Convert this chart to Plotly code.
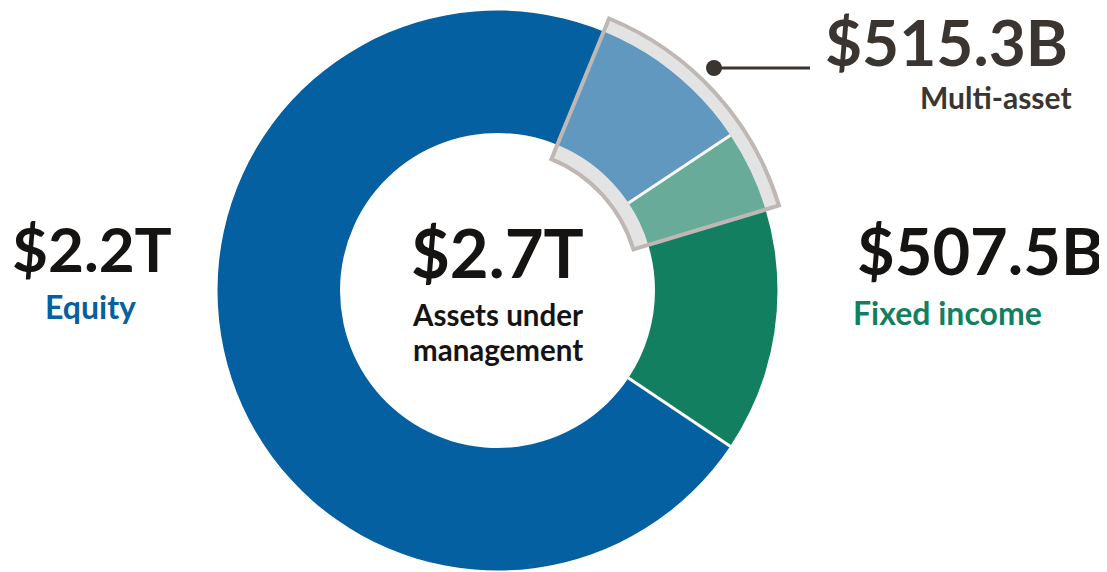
import numpy as np
import plotly.graph_objects as go

# assets under management, billions of USD
categories = ["Equity", "Fixed income"]
aum_bn = [2200.0, 507.5]
value_labels = ["$2.2T", "$507.5B"]
multi_asset_bn = 515.3
multi_asset_label = "$515.3B"
total_label = "$2.7T"

VIEW_W, VIEW_H = 1107, 572
PAD = 8                        # default body margin of the html page
W, H = VIEW_W - PAD, VIEW_H - PAD
CX, CY = 497.5, 290.5          # donut centre, screen px
R_OUT, R_IN = 280.0, 157.5     # donut radii in px
HL_OUT, HL_IN = 294.0, 142.0   # multi-asset highlight radii
HL_FROM, HL_TO = 22.3, 73.2    # highlight span, deg clockwise from 12 o'clock
FI_START = 56.3                # fixed income starts here

BLUE = "#0460a0"
GREEN = "#127f61"
INK = "#161412"
GREY_INK = "#3b3531"
FONT = "Lato"

total = sum(aum_bn)
spans = [v / total * 360 for v in aum_bn]
starts = [FI_START + spans[1], FI_START]   # equity follows fixed income clockwise
centers = [(s + w / 2) % 360 for s, w in zip(starts, spans)]


# screen px -> paper coords
def px_x(x):
    return (x - PAD) / W


def px_y(y):
    return 1 - (y - PAD) / H


# full-circle subplot for the donut, 1 radial unit = 1 px
R1 = VIEW_H - CY
dom_full = dict(x=[px_x(CX - R1), px_x(CX + R1)],
                y=[max(0.0, px_y(CY + R1)), min(1.0, px_y(CY - R1))])

# sector subplots for the highlight (lets it stick out past the donut)
SECTOR = [12, 69.5]
R2 = 300.0
bx = np.cos(np.radians(SECTOR[0]))
by = np.sin(np.radians(SECTOR[1]))
dom_sector = dict(x=[px_x(CX), px_x(CX + R2 * bx)],
                  y=[px_y(CY), min(1.0, px_y(CY - R2 * by))])


def polar_cfg(domain, rmax, sector=None):
    cfg = dict(domain=domain, bgcolor="rgba(0,0,0,0)", barmode="overlay",
               radialaxis=dict(range=[0, rmax], visible=False, showgrid=False, showline=False),
               angularaxis=dict(rotation=90, direction="clockwise", visible=False,
                                showgrid=False, showline=False, ticks=""))
    if sector:
        cfg["sector"] = sector
    return cfg


hl_mid = (HL_FROM + HL_TO) / 2
hl_w = HL_TO - HL_FROM

fig = go.Figure()

# grey rim underneath the donut
fig.add_trace(go.Barpolar(r=[HL_OUT - HL_IN], base=[HL_IN], theta=[hl_mid], width=[hl_w],
                          marker=dict(color="#dddddd", line=dict(width=0)),
                          subplot="polar", hoverinfo="skip", showlegend=False))

# the donut itself
fig.add_trace(go.Barpolar(r=[R_OUT - R_IN] * 2, base=[R_IN] * 2, theta=centers, width=spans,
                          marker=dict(color=[BLUE, GREEN], line=dict(width=0)),
                          customdata=aum_bn, text=categories,
                          hovertemplate="%{text}: $%{customdata}B<extra></extra>",
                          subplot="polar2", showlegend=False))

# white separators between slices
for b in starts:
    fig.add_trace(go.Scatterpolar(r=[R_IN, R_OUT], theta=[b, b], mode="lines",
                                  line=dict(color="white", width=3), hoverinfo="skip",
                                  subplot="polar2", showlegend=False))

# translucent multi-asset highlight on top
fig.add_trace(go.Barpolar(r=[HL_OUT - HL_IN], base=[HL_IN], theta=[hl_mid], width=[hl_w],
                          marker=dict(color="rgba(237,237,237,0.40)",
                                      line=dict(color="#bfb7b3", width=4)),
                          text=["Multi-asset"], customdata=[multi_asset_bn],
                          hovertemplate="%{text}: $%{customdata}B<extra></extra>",
                          subplot="polar3", showlegend=False))


def label(text, x, y, size, color, xanchor="center"):
    return dict(text=text, x=px_x(x), y=px_y(y), xref="paper", yref="paper",
                xanchor=xanchor, yanchor="middle", showarrow=False,
                font=dict(family=FONT, size=size, color=color, weight="bold"))


annotations = [
    label(value_labels[0], 92, 248, 62, INK),
    label(categories[0], 90, 306, 32, BLUE),
    label(total_label, 497.5, 252, 67, INK),
    label("Assets under", 497.5, 314, 29.5, INK),
    label("management", 497.5, 349.5, 29.5, INK),
    label(multi_asset_label, 1070, 41, 64, GREY_INK, "right"),
    label("Multi-asset", 1074, 97, 30, GREY_INK, "right"),
    label(value_labels[1], 855, 250, 65, INK, "left"),
    label(categories[1], 851, 312, 32, GREEN, "left"),
]

# leader line + dot for the multi-asset call-out
DOT_X, DOT_Y, DOT_R = 714, 68, 8
shapes = [
    dict(type="line", xref="paper", yref="paper", x0=px_x(DOT_X), x1=px_x(810),
         y0=px_y(DOT_Y), y1=px_y(DOT_Y), line=dict(color=GREY_INK, width=3)),
    dict(type="circle", xref="paper", yref="paper",
         x0=px_x(DOT_X - DOT_R), x1=px_x(DOT_X + DOT_R),
         y0=px_y(DOT_Y + DOT_R), y1=px_y(DOT_Y - DOT_R),
         fillcolor=GREY_INK, line=dict(width=0), layer="above"),
]

fig.update_layout(
    width=W, height=H, margin=dict(l=0, r=0, t=0, b=0),
    template="none", paper_bgcolor="white", plot_bgcolor="white",
    font=dict(family=FONT),
    polar=polar_cfg(dom_sector, R2, SECTOR),
    polar2=polar_cfg(dom_full, R1),
    polar3=polar_cfg(dom_sector, R2, SECTOR),
    annotations=annotations, shapes=shapes, showlegend=False,
)

fig.write_html("out.html")
